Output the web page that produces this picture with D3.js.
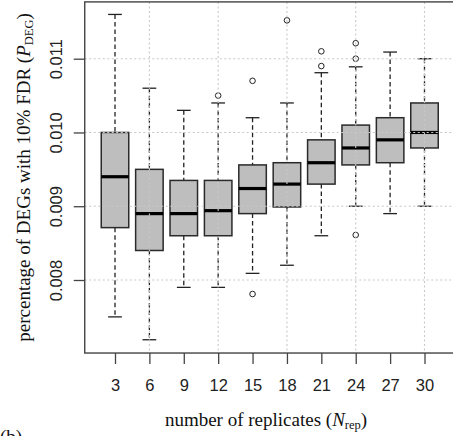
<!DOCTYPE html>
<html>
<head>
<meta charset="utf-8">
<script src="https://cdn.jsdelivr.net/npm/d3@7"></script>
<style>
  body { margin: 0; background: #fff; }
  svg { display: block; }
  .tick text { font-family: "Liberation Sans", Arial, sans-serif; font-size: 16.5px; fill: #222; }
  .tick line { stroke: #444; stroke-width: 1.3; }
  .title { font-family: "Liberation Serif", "Times New Roman", serif; font-size: 19px; fill: #111; }
</style>
</head>
<body>
<svg></svg>
<script>
// replicate counts on the x axis
const replicates = [3, 6, 9, 12, 15, 18, 21, 24, 27, 30];

// box statistics
const whiskerLow  = [0.00750, 0.00719, 0.00790, 0.00790, 0.00809, 0.00820, 0.00860, 0.00900, 0.00890, 0.00900];
const lowerQuart  = [0.00871, 0.00840, 0.00860, 0.00860, 0.00890, 0.00899, 0.00930, 0.00956, 0.00959, 0.00979];
const medians     = [0.00940, 0.00890, 0.00890, 0.00894, 0.00924, 0.00930, 0.00959, 0.00979, 0.00990, 0.01000];
const upperQuart  = [0.01000, 0.00950, 0.00935, 0.00935, 0.00956, 0.00959, 0.00990, 0.01010, 0.01020, 0.01040];
const whiskerHigh = [0.01160, 0.01060, 0.01030, 0.01040, 0.01020, 0.01040, 0.01081, 0.01089, 0.01109, 0.01100];
const outliers    = [[], [], [], [0.01050], [0.01070, 0.00781], [0.01152],
                     [0.01110, 0.01090], [0.01121, 0.01100, 0.00861], [], []];

const yTicks = [0.008, 0.009, 0.010, 0.011];

const width = 453, height = 436;
const svg = d3.select("svg").attr("width", width).attr("height", height);

const x = d3.scaleLinear().domain([1, 10]).range([115, 424.5]);
const y = d3.scaleLinear().domain([0.008, 0.011]).range([280, 58.7]);

const boxW = (x(2) - x(1)) * 0.8;
const frame = {left: x(0.12), right: x(10.88), top: y(0.01177), bottom: y(0.00701)};

const data = replicates.map((r, i) => ({
  pos: i + 1, lo: whiskerLow[i], q1: lowerQuart[i], med: medians[i],
  q3: upperQuart[i], hi: whiskerHigh[i], out: outliers[i]
}));

const boxes = svg.append("g").attr("class", "boxes");
const g = boxes.selectAll(".box").data(data).join("g").attr("class", "box");

// whiskers
g.append("line")
  .attr("x1", d => x(d.pos)).attr("x2", d => x(d.pos))
  .attr("y1", d => y(d.hi)).attr("y2", d => y(d.q3))
  .attr("stroke", "#222").attr("stroke-width", 1.3).attr("stroke-dasharray", "4.5,3");
g.append("line")
  .attr("x1", d => x(d.pos)).attr("x2", d => x(d.pos))
  .attr("y1", d => y(d.q1)).attr("y2", d => y(d.lo))
  .attr("stroke", "#222").attr("stroke-width", 1.3).attr("stroke-dasharray", "4.5,3");

// staples
["hi", "lo"].forEach(k => {
  g.append("line")
    .attr("x1", d => x(d.pos) - boxW / 4).attr("x2", d => x(d.pos) + boxW / 4)
    .attr("y1", d => y(d[k])).attr("y2", d => y(d[k]))
    .attr("stroke", "#222").attr("stroke-width", 1.3);
});

g.append("rect")
  .attr("x", d => x(d.pos) - boxW / 2).attr("width", boxW)
  .attr("y", d => y(d.q3)).attr("height", d => y(d.q1) - y(d.q3))
  .attr("fill", "#bebebe").attr("stroke", "#2a2a2a").attr("stroke-width", 1.5);

g.append("line")
  .attr("x1", d => x(d.pos) - boxW / 2).attr("x2", d => x(d.pos) + boxW / 2)
  .attr("y1", d => y(d.med)).attr("y2", d => y(d.med))
  .attr("stroke", "#000").attr("stroke-width", 3.2);

g.selectAll("circle").data(d => d.out.map(v => ({pos: d.pos, v}))).join("circle")
  .attr("cx", d => x(d.pos)).attr("cy", d => y(d.v)).attr("r", 2.8)
  .attr("fill", "none").attr("stroke", "#222").attr("stroke-width", 1);

// grid drawn over the boxes
const grid = svg.append("g").attr("class", "grid")
  .attr("stroke", "#c8c8c8").attr("stroke-width", 1.1).attr("stroke-dasharray", "2,2.5");
grid.selectAll(".h").data(yTicks).join("line")
  .attr("x1", frame.left).attr("x2", frame.right)
  .attr("y1", d => y(d)).attr("y2", d => y(d));
grid.selectAll(".v").data([2, 4, 6, 8, 10]).join("line")
  .attr("x1", d => x(d)).attr("x2", d => x(d))
  .attr("y1", frame.top).attr("y2", frame.bottom);

// frame
svg.append("rect")
  .attr("x", frame.left).attr("y", frame.top)
  .attr("width", frame.right - frame.left).attr("height", frame.bottom - frame.top)
  .attr("fill", "none").attr("stroke", "#444").attr("stroke-width", 1.4);

// axes
const xAxis = d3.axisBottom(x).tickValues(d3.range(1, 11))
  .tickFormat((d, i) => replicates[i]).tickSize(11).tickSizeOuter(0).tickPadding(15);
svg.append("g").attr("transform", `translate(0,${frame.bottom})`).call(xAxis)
  .call(a => a.select(".domain").remove());

const yAxis = d3.axisLeft(y).tickValues(yTicks).tickFormat(d3.format(".3f")).tickSize(11);
const ya = svg.append("g").attr("transform", `translate(${frame.left},0)`).call(yAxis)
  .call(a => a.select(".domain").remove());
ya.selectAll(".tick text")
  .attr("x", null).attr("dy", null)
  .attr("text-anchor", "middle")
  .attr("transform", `translate(${61.5 - frame.left},0) rotate(-90)`);

// titles
const xt = svg.append("text").attr("class", "title")
  .attr("x", 266).attr("y", 426).attr("text-anchor", "middle");
xt.append("tspan").text("number of replicates (");
xt.append("tspan").attr("font-style", "italic").text("N");
xt.append("tspan").attr("font-size", "12.5px").attr("dy", 3).text("rep");
xt.append("tspan").attr("dy", -3).text(")");

const yt = svg.append("text").attr("class", "title")
  .attr("transform", `translate(30,${(frame.top + frame.bottom) / 2}) rotate(-90)`)
  .attr("text-anchor", "middle");
yt.append("tspan").text("percentage of DEGs with 10% FDR (");
yt.append("tspan").attr("font-style", "italic").text("P");
yt.append("tspan").attr("font-size", "12.5px").attr("dy", 3).text("DEG");
yt.append("tspan").attr("dy", -3).text(")");

svg.append("text").attr("class", "title").attr("x", 0).attr("y", 443).text("(b)");
</script>
</body>
</html>
